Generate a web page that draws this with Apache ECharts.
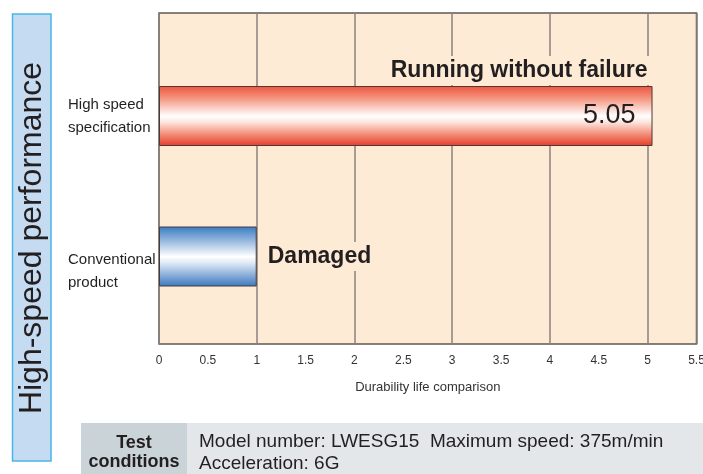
<!DOCTYPE html>
<html>
<head>
<meta charset="utf-8">
<script src="https://cdn.jsdelivr.net/npm/echarts@6/dist/echarts.min.js"></script>
<style>
  html, body { margin: 0; padding: 0; background: #ffffff; }
  #chart { width: 703px; height: 474px; }
</style>
</head>
<body>
<div id="chart"></div>
<script>
// ---- data ----
const categories = ['High speed\nspecification', 'Conventional\nproduct'];
const values = [5.05, 1.0];
const valueLabels = ['5.05', ''];
const annotations = ['Running without failure', 'Damaged'];
const xMin = 0;
const xMax = 5.5;
const xLabelInterval = 0.5;
const xGridInterval = 1;
const xAxisTitle = 'Durability life comparison';
const sideTitle = 'High-speed performance';
const condTitle = 'Test\nconditions';
const condLines = ['Model number: LWESG15  Maximum speed: 375m/min', 'Acceleration: 6G'];

const FONT = '"Liberation Sans", Arial, Helvetica, sans-serif';
const TXT = '#231f20';
const PLOT_BG = '#fdebd6';

const redGrad = new echarts.graphic.LinearGradient(0, 0, 0, 1, [
  { offset: 0, color: '#ef533c' },
  { offset: 0.22, color: '#f59a86' },
  { offset: 0.5, color: '#ffffff' },
  { offset: 0.6, color: '#fde6df' },
  { offset: 0.82, color: '#f28670' },
  { offset: 1, color: '#e63d28' }
]);
const blueGrad = new echarts.graphic.LinearGradient(0, 0, 0, 1, [
  { offset: 0, color: '#3a7cc3' },
  { offset: 0.22, color: '#8fb3dd' },
  { offset: 0.5, color: '#ffffff' },
  { offset: 0.6, color: '#e2ebf6' },
  { offset: 0.82, color: '#85abd8' },
  { offset: 1, color: '#3a78bf' }
]);
const grads = [redGrad, blueGrad];

const chart = echarts.init(document.getElementById('chart'), null, { renderer: 'canvas' });

const barData = values.map((v, i) => ({
  value: v,
  itemStyle: { color: grads[i], borderColor: '#4a3a3a', borderWidth: 1 },
  label: {
    show: valueLabels[i] !== '',
    formatter: valueLabels[i],
    position: 'insideRight',
    distance: 17,
    fontSize: 27,
    fontFamily: FONT,
    color: TXT
  }
}));

const annoData = values.map((v, i) => {
  const base = {
    show: true,
    formatter: annotations[i],
    fontSize: 23,
    fontWeight: 'bold',
    fontFamily: FONT,
    color: TXT,
    backgroundColor: PLOT_BG,
    padding: [3, 2, 3, 2]
  };
  if (i === 0) {
    Object.assign(base, { position: ['100%', 0], align: 'right', verticalAlign: 'bottom', offset: [-3, -1] });
  } else {
    Object.assign(base, { position: 'right', distance: 9 });
  }
  return { value: v, itemStyle: { color: 'rgba(0,0,0,0)' }, label: base };
});

const option = {
  animation: false,
  backgroundColor: '#ffffff',
  grid: [
    { left: 159, right: 6.5, top: 13, bottom: 130, outerBoundsMode: 'none', containLabel: false, show: true, backgroundColor: PLOT_BG, borderColor: '#5e5852', borderWidth: 1.5 },
    { left: 159, right: 6.5, top: 45.75, bottom: 147.25, outerBoundsMode: 'none', containLabel: false }
  ],
  xAxis: [
    {
      gridIndex: 0, type: 'value', min: xMin, max: xMax, interval: xLabelInterval,
      axisLine: { show: false }, axisTick: { show: false }, splitLine: { show: false },
      axisLabel: { margin: 11, fontSize: 12, fontFamily: FONT, color: '#333333', formatter: v => String(v) },
      name: xAxisTitle, nameLocation: 'middle', nameGap: 37,
      nameTextStyle: { fontSize: 13, fontFamily: FONT, color: '#333333' }
    },
    {
      gridIndex: 0, type: 'value', min: xMin, max: xMax, interval: xGridInterval,
      axisLine: { show: false }, axisTick: { show: false }, axisLabel: { show: false },
      splitLine: { show: true, lineStyle: { color: '#8a827c', width: 1.5 } }
    },
    {
      gridIndex: 1, type: 'value', min: xMin, max: xMax, show: false
    }
  ],
  yAxis: [
    { gridIndex: 0, type: 'value', show: false },
    {
      gridIndex: 1, type: 'category', data: categories, inverse: true,
      axisLine: { show: false }, axisTick: { show: false },
      axisLabel: {
        margin: 91, align: 'left', fontSize: 15, fontFamily: FONT, color: TXT, lineHeight: 23,
        formatter: (val, idx) => {
          const lines = val.split('\n').map(l => '{a|' + l + '}').join('\n');
          return idx === 1 ? '{s|}\n' + lines : lines;
        },
        rich: {
          a: { fontSize: 15, fontFamily: FONT, color: TXT, lineHeight: 23 },
          s: { lineHeight: 29, fontSize: 1 }
        }
      }
    }
  ],
  series: [
    {
      type: 'bar', xAxisIndex: 2, yAxisIndex: 1, barWidth: 60, data: barData, z: 3,
      emphasis: { disabled: true }
    },
    {
      type: 'bar', xAxisIndex: 2, yAxisIndex: 1, barWidth: 60, barGap: '-100%', data: annoData, z: 4,
      silent: true, emphasis: { disabled: true }
    }
  ],
  graphic: [
    {
      type: 'rect', shape: { x: 12.5, y: 14, width: 38.5, height: 447 },
      style: { fill: '#c5dbf1', stroke: '#45b6e8', lineWidth: 1.5 }, z: 1
    },
    {
      type: 'text', x: 32.5, y: 238, rotation: Math.PI / 2,
      style: { text: sideTitle, fontSize: 32, fontFamily: FONT, fill: TXT, align: 'center', verticalAlign: 'middle' }, z: 2
    },
    {
      type: 'rect', shape: { x: 81, y: 423, width: 106, height: 51 },
      style: { fill: '#c9d3d8' }, z: 1
    },
    {
      type: 'rect', shape: { x: 187, y: 423, width: 516, height: 51 },
      style: { fill: '#e3e7ea' }, z: 1
    },
    {
      type: 'text', x: 134, y: 453,
      style: { text: condTitle, fontSize: 18, fontWeight: 'bold', fontFamily: FONT, fill: TXT, align: 'center', verticalAlign: 'middle', lineHeight: 19 }, z: 2
    },
    {
      type: 'text', x: 199, y: 442,
      style: { text: condLines[0], fontSize: 19, fontFamily: FONT, fill: TXT, align: 'left', verticalAlign: 'middle' }, z: 2
    },
    {
      type: 'text', x: 199, y: 464,
      style: { text: condLines[1], fontSize: 19, fontFamily: FONT, fill: TXT, align: 'left', verticalAlign: 'middle' }, z: 2
    }
  ]
};

chart.setOption(option);
</script>
</body>
</html>
